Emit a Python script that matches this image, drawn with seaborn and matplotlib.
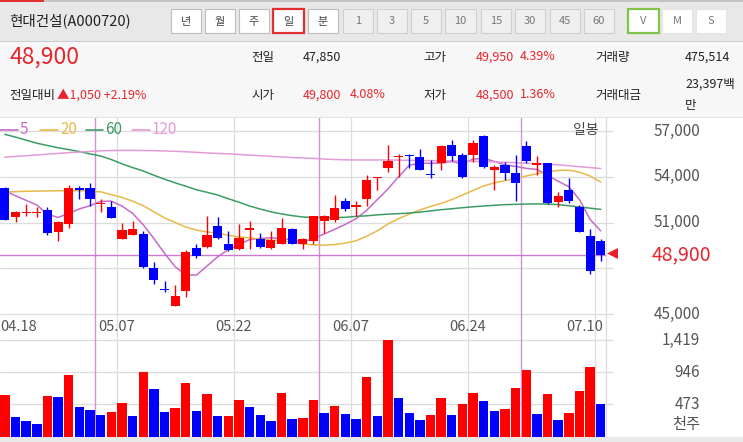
import numpy as np
import pandas as pd
import matplotlib
matplotlib.use("Agg")
import matplotlib.pyplot as plt
import matplotlib.transforms as mtransforms
from matplotlib.patches import Rectangle, Polygon
from matplotlib.lines import Line2D
import seaborn as sns

# ---------------- data ----------------
stock_title = "현대건설(A000720)"
period_buttons = ["년", "월", "주", "일", "분", "1", "3", "5", "10", "15", "30", "45", "60", "V", "M", "S"]
last_price = 48900
prev_close = 47850
day_open = 49800
day_high = 49950
day_low = 48500
day_volume = 475514
turnover_text = "23,397백"
turnover_unit = "만"

opens = [53270, 51330, 51600, 51620, 51850, 50380, 50870, 53220, 53270, 52200,
         52040, 49930, 50160, 50220, 48000, 46650, 45510, 46510, 49330, 49410,
         50780, 49620, 49270, 50490, 49930, 49330, 49620, 50560, 49560, 49780,
         51110, 51180, 52440, 52040, 52510, 53890, 54560, 55270, 55440, 55290,
         54200, 54890, 56110, 55400, 55440, 56670, 54440, 54780, 54270, 56000,
         54760, 54890, 52330, 53160, 52000, 50110, 49800]
highs = [53330, 51780, 52220, 52000, 52000, 51110, 53440, 53400, 53560, 52510,
         52440, 51000, 51110, 50440, 48440, 47180, 46890, 49220, 49560, 51430,
         51330, 50440, 50870, 51070, 50330, 50440, 51270, 50670, 50000, 51440,
         51490, 52780, 52600, 52440, 54110, 53960, 56110, 55490, 55490, 55840,
         55110, 56110, 56440, 55560, 56440, 56710, 54780, 55000, 55400, 56330,
         55330, 54890, 53000, 53890, 52160, 50600, 49950]
lows = [51150, 51040, 51440, 51330, 50160, 49780, 50670, 52510, 52110, 51710,
        51290, 49890, 50160, 48000, 47000, 46440, 45510, 46110, 48670, 49350,
        49890, 49110, 49180, 49270, 49330, 49270, 49620, 49560, 49270, 49620,
        50290, 51040, 51780, 51400, 52110, 53110, 54330, 54000, 54560, 54440,
        53890, 54440, 55040, 53890, 55000, 54560, 53110, 53780, 52440, 54890,
        54110, 52220, 52000, 52290, 50380, 47620, 48500]
closes = [51180, 51670, 51650, 51700, 50290, 51000, 53270, 53150, 52510, 52290,
          51290, 50510, 50600, 48070, 47220, 46580, 46180, 49040, 48780, 50180,
          50000, 49180, 50000, 50640, 49400, 49840, 50640, 49600, 49890, 51400,
          51440, 51930, 51890, 52110, 53780, 53960, 55000, 55330, 55330, 54440,
          54110, 56000, 55330, 54000, 56220, 54620, 54670, 54220, 53600, 55040,
          54890, 52290, 52730, 52380, 50380, 47850, 48900]
volumes = [603, 284, 225, 181, 598, 588, 902, 431, 392, 323,
           363, 490, 299, 946, 701, 358, 421, 784, 372, 632,
           299, 305, 534, 431, 319, 225, 647, 260, 270, 539,
           348, 451, 338, 260, 882, 299, 1419, 564, 348, 245,
           323, 559, 319, 471, 637, 524, 382, 402, 720, 980,
           328, 622, 240, 343, 672, 1020, 476]
ma5 = [53100, 52750, 52450, 52150, 51550, 51330, 51600, 51890, 52100, 52380,
       52400, 52080, 51600, 50850, 49950, 48980, 48100, 47560, 47550, 48150,
       48750, 49230, 49560, 49880, 49960, 50000, 49950, 49860, 49700, 49950,
       50250, 50550, 50880, 51250, 51800, 52500, 53200, 54000, 54750, 54900,
       54880, 54900, 55000, 54850, 55150, 55220, 55000, 54780, 54680, 54550,
       54480, 54100, 53700, 53350, 52500, 51200, 50450]
ma20 = [53000, 53020, 53050, 53060, 53070, 53080, 53090, 53080, 53060, 53010,
        52830, 52650, 52400, 52100, 51700, 51300, 51000, 50700, 50500, 50380,
        50300, 50160, 50060, 49990, 49900, 49850, 49790, 49730, 49600, 49530,
        49510, 49560, 49650, 49800, 50100, 50450, 50900, 51250, 51550, 51820,
        52050, 52250, 52500, 52800, 53100, 53400, 53600, 53750, 53900, 54050,
        54200, 54320, 54420, 54430, 54300, 54050, 53650]
ma60 = [56780, 56600, 56400, 56200, 56050, 55900, 55780, 55650, 55500, 55360,
        55130, 54850, 54600, 54380, 54100, 53840, 53600, 53380, 53150, 52980,
        52800, 52560, 52330, 52080, 51880, 51700, 51560, 51450, 51360, 51330,
        51320, 51330, 51340, 51400, 51440, 51500, 51550, 51580, 51620, 51680,
        51760, 51840, 51900, 51970, 52030, 52080, 52130, 52170, 52190, 52210,
        52220, 52210, 52170, 52100, 52020, 51940, 51860]
ma120 = [55280, 55330, 55380, 55430, 55480, 55530, 55580, 55620, 55660, 55700,
         55720, 55730, 55730, 55720, 55710, 55690, 55670, 55640, 55600, 55560,
         55530, 55500, 55460, 55420, 55380, 55340, 55300, 55260, 55230, 55200,
         55160, 55130, 55110, 55100, 55100, 55100, 55100, 55090, 55080, 55070,
         55060, 55050, 55040, 55030, 55010, 55000, 54980, 54950, 54920, 54890,
         54860, 54820, 54780, 54720, 54660, 54600, 54540]
date_labels = ["04.18", "05.07", "05.22", "06.07", "06.24", "07.10"]
date_label_index = [0, 11, 22, 33, 44, 56]
month_start_index = [9, 30, 49]
price_grid = [57000, 54000, 51000, 48000, 45000]
price_tick_labels = [57000, 54000, 51000, 45000]
volume_ticks = [1419, 946, 473]
ma_names = ["5", "20", "60", "120"]

# ---------------- style ----------------
sns.set_theme(style="white")
plt.rcParams["font.family"] = ["Noto Sans CJK KR", "DejaVu Sans"]

W, H = 743, 442
fig = plt.figure(figsize=(W / 100, H / 100), dpi=100)
fig.patch.set_facecolor("white")

RED = "#ff0000"
BLUE = "#0000ff"
TXT_RED = "#e5262c"
GRID = "#dcdcdc"
PINK_LINE = "#d68fd6"
MA_COLORS = ["#c86ac8", "#e8b94a", "#3c9c64", "#e49ad8"]


def FX(x):
    return x / W


def FY(y):
    return 1 - y / H


def rect(x0, y0, x1, y1, fc, ec="none", lw=0, z=0):
    fig.patches.append(Rectangle((FX(x0), FY(y1)), FX(x1) - FX(x0), FY(y0) - FY(y1),
                                 transform=fig.transFigure, facecolor=fc,
                                 edgecolor=ec, linewidth=lw, zorder=z))


def ftext(x, y, s, size, color, ha="left", va="center", **kw):
    fig.text(FX(x), FY(y), s, fontsize=size, color=color, ha=ha, va=va, **kw)


# ---------------- header ----------------
rect(0, 0, W, 42, "#e8e8e8")
rect(0, 0, W, 1.5, "#c4c4c4", z=1)
rect(0, 0, 44, 2, "#e03030", z=2)
rect(0, 41, W, 42, "#cbcbcb", z=1)
rect(0, 42, W, 118, "#f7f7f7")
rect(0, 117, W, 118, "#e2e2e2", z=1)

ftext(9, 21, stock_title, 10.5, "#222222")

btn_x = [(171, 201), (205, 235), (239, 269), (273, 304), (308, 338), (343, 373),
         (377, 407), (411, 441), (445, 476), (481, 511), (515, 545), (550, 580),
         (584, 614), (628, 659), (662, 692), (696, 726)]
for k, (lab, (x0, x1)) in enumerate(zip(period_buttons, btn_x)):
    if lab in ["년", "월", "주", "분"]:
        fc, ec, lw, tc = "white", "#bdbdbd", 0.8, "#444444"
    elif lab == "일":
        fc, ec, lw, tc = "white", "#e03030", 1.6, "#444444"
    elif lab == "V":
        fc, ec, lw, tc = "white", "#82c44a", 1.6, "#777777"
    elif lab in ["M", "S"]:
        fc, ec, lw, tc = "white", "#e4e4e4", 0.8, "#777777"
    else:
        fc, ec, lw, tc = "#efefef", "#d0d0d0", 0.8, "#777777"
    rect(x0, 9, x1, 33, fc, ec, lw, z=3)
    ftext((x0 + x1) / 2, 21.5, lab, 8, tc, ha="center", zorder=4)

# info panel
ftext(10, 57, f"{last_price:,}", 16.5, TXT_RED)
ftext(251, 57, "전일", 9, "#222222")
ftext(303, 57, f"{prev_close:,}", 9, "#222222")
ftext(423, 57, "고가", 9, "#222222")
ftext(476, 57, f"{day_high:,}", 9, TXT_RED)
ftext(520, 57, f"{(day_high - prev_close) / prev_close * 100:.2f}%", 9, TXT_RED)
ftext(595, 57, "거래량", 9, "#222222")
ftext(685, 57, f"{day_volume:,}", 9, "#222222")

ftext(9, 95, "전일대비", 9, "#222222")
chg = last_price - prev_close
ftext(57, 95, f"▲{chg:,} +{chg / prev_close * 100:.2f}%", 9, TXT_RED)
ftext(251, 95, "시가", 9, "#222222")
ftext(303, 95, f"{day_open:,}", 9, TXT_RED)
ftext(350, 95, f"{(day_open - prev_close) / prev_close * 100:.2f}%", 9, TXT_RED)
ftext(423, 95, "저가", 9, "#222222")
ftext(476, 95, f"{day_low:,}", 9, TXT_RED)
ftext(520, 95, f"{(day_low - prev_close) / prev_close * 100:.2f}%", 9, TXT_RED)
ftext(595, 95, "거래대금", 9, "#222222")
ftext(685, 84, turnover_text, 9, "#222222")
ftext(685, 106, turnover_unit, 9, "#222222")

# ---------------- chart axes ----------------
PX_PER_1000 = 15.25
Y57 = 131.0


def price_at(ypix):
    return 57000 - (ypix - Y57) / PX_PER_1000 * 1000


X0, DX = 4.9, 10.64
xlim = ((0 - X0) / DX, (606 - X0) / DX)
x_ext = (613 - X0) / DX

ax = fig.add_axes([0, FY(340), FX(606), (340 - 118) / H])
axv = fig.add_axes([0, FY(436.5), FX(606), 96.5 / H])

idx = np.arange(len(closes))
o = np.array(opens, float)
c = np.array(closes, float)
h = np.array(highs, float)
l = np.array(lows, float)

# moving averages (seaborn)
ma_df = pd.DataFrame({"idx": idx, "5": ma5, "20": ma20, "60": ma60, "120": ma120})
for name, col in zip(ma_names, MA_COLORS):
    sns.lineplot(data=ma_df, x="idx", y=name, ax=ax, color=col, lw=1.1,
                 zorder=3, legend=False)
ax.set_xlim(*xlim)
ax.set_ylim(price_at(340), price_at(118))
ax.axis("off")

# horizontal gridlines
for p in price_grid:
    ax.plot([xlim[0], x_ext], [p, p], color=GRID, lw=0.9, zorder=1, clip_on=False)

# vertical date gridlines and month separators
for k in date_label_index[1:]:
    ax.axvline(k - 0.5, color=GRID, lw=0.9, zorder=1)
    axv.axvline(k - 0.5, color=GRID, lw=0.9, zorder=0.5)
for k in month_start_index:
    ax.axvline(k - 0.5, color=PINK_LINE, lw=1.0, zorder=1.5)
    axv.axvline(k - 0.5, color=PINK_LINE, lw=1.0, zorder=0.6)

# current price line
ax.plot([xlim[0], xlim[1]], [last_price, last_price], color="#cc7acc", lw=1.0, zorder=2)

# candles
ccol = [RED if cc >= oo else BLUE for oo, cc in zip(o, c)]
body_h = np.maximum(np.abs(c - o), 90)
body_b = np.minimum(o, c)
ax.vlines(idx, l, h, colors=ccol, lw=1.0, zorder=4)
ax.bar(idx, body_h, bottom=body_b, width=0.86, color=ccol, zorder=5, linewidth=0)

# date labels
yd = price_at(327)
for lab, k in zip(date_labels, date_label_index):
    if k == date_label_index[0]:
        ax.text(xlim[0], yd, lab, ha="left", va="center", fontsize=10.5, color="#555555")
    elif k == date_label_index[-1]:
        ax.text((603 - X0) / DX, yd, lab, ha="right", va="center", fontsize=10.5, color="#555555")
    else:
        ax.text(k - 0.5, yd, lab, ha="center", va="center", fontsize=10.5, color="#555555")

# right price labels
tr = mtransforms.blended_transform_factory(fig.transFigure, ax.transData)
for p in price_tick_labels:
    ax.text(FX(700), p, f"{p:,}", transform=tr, ha="right", va="center",
            fontsize=11, color="#555555", clip_on=False)
ax.text(FX(652), last_price, f"{last_price:,}", transform=tr, ha="left", va="center",
        fontsize=14, color=TXT_RED, clip_on=False)
fig.patches.append(Polygon([(FX(607), FY(253.5)), (FX(618), FY(248)), (FX(618), FY(259))],
                           closed=True, transform=fig.transFigure, facecolor="#e8202a",
                           edgecolor="none", zorder=6))

# legend
lx = [(0, 18, 20), (40, 58, 60), (86, 103, 105), (132, 150, 152)]
for (a, b, t), name, col in zip(lx, ma_names, MA_COLORS):
    fig.lines.append(Line2D([FX(a), FX(b)], [FY(130), FY(130)], transform=fig.transFigure,
                            color=col, lw=1.2, zorder=7))
    ftext(t, 129, name, 11, col, zorder=7)
ftext(598, 130, "일봉", 10, "#444444", ha="right", zorder=7)

# ---------------- volume ----------------
vol_dir = ["up"] + ["up" if v > pv else "down" for pv, v in zip(volumes[:-1], volumes[1:])]
vdf = pd.DataFrame({"idx": idx, "vol": volumes, "dir": vol_dir})
sns.barplot(data=vdf, x="idx", y="vol", hue="dir", palette={"up": RED, "down": BLUE},
            native_scale=True, dodge=False, width=0.88, errorbar=None, saturation=1,
            legend=False, ax=axv, zorder=2, linewidth=0)
axv.set_xlim(*xlim)
axv.set_ylim(0, 1419)
axv.axis("off")
for v in volume_ticks:
    axv.plot([xlim[0], x_ext], [v, v], color=GRID, lw=0.9, zorder=0.4, clip_on=False)

trv = mtransforms.blended_transform_factory(fig.transFigure, axv.transData)
for v in volume_ticks:
    axv.text(FX(700), v, f"{v:,}", transform=trv, ha="right", va="center",
             fontsize=11, color="#555555", clip_on=False)
ftext(700, 424, "천주", 11, "#555555", ha="right")

# right border line of the plot and bottom strip
fig.lines.append(Line2D([FX(606), FX(606)], [FY(118), FY(436.5)], transform=fig.transFigure,
                        color=GRID, lw=0.9, zorder=1))
rect(0, 436.5, W, H, "#e9e9e9", z=8)

fig.savefig("out.png", dpi=100)
